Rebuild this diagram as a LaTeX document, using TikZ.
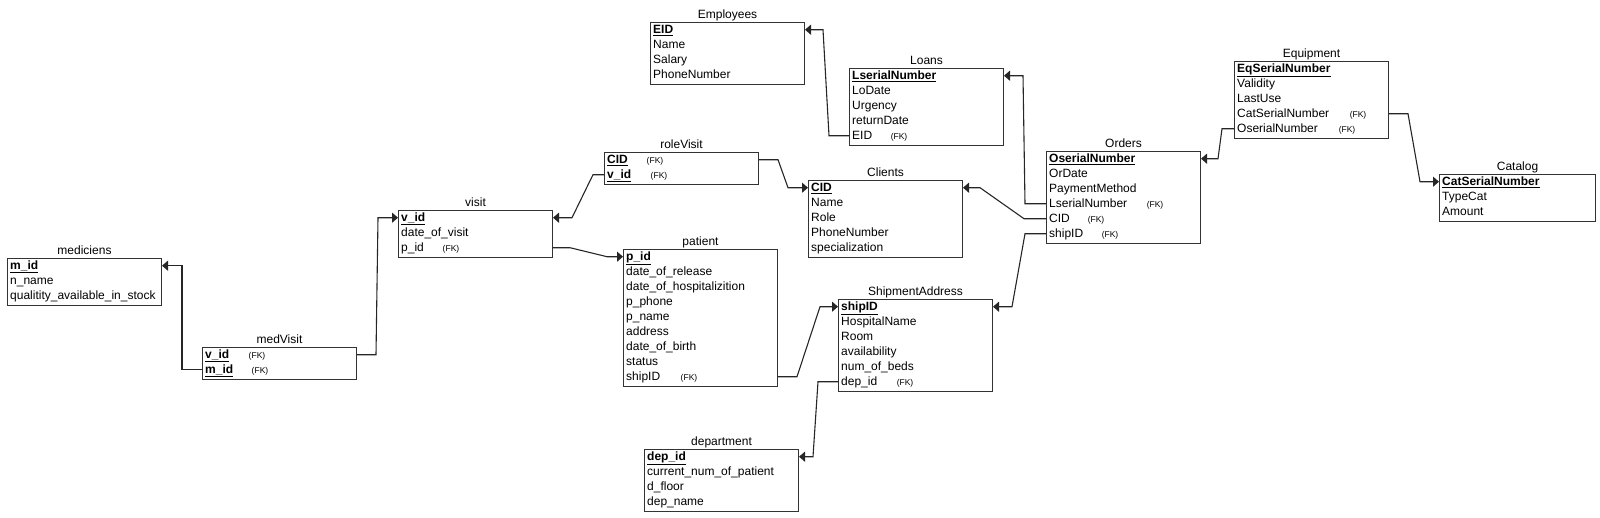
\documentclass[tikz,border=0pt]{standalone}
\usepackage{fontspec}
\setmainfont{Liberation Sans}
\usetikzlibrary{arrows.meta, positioning}

\newcommand{\pkey}[1]{\underline{\textbf{#1}}}

\begin{document}
\begin{tikzpicture}[x=1pt, y=-1pt,
    tbl/.style={draw=black!80, line width=1pt, minimum width=154pt, inner sep=0pt, anchor=north west},
    ttl/.style={font=\fontsize{12}{14}\selectfont, inner sep=0pt, text depth=3pt},
    fld/.style={font=\fontsize{12}{14}\selectfont, inner sep=0pt, minimum height=15pt, text height=10pt, text depth=2pt, anchor=north west},
    fk/.style={font=\fontsize{8.5}{10}\selectfont, inner sep=0pt, anchor=base},
    conn/.style={draw=black!85, line width=1.1pt, -{Triangle[length=6pt,width=10pt]}}
]
\useasboundingbox (0,0) rectangle (1600,517);

% tables
\node[tbl, minimum height=62pt] (emp) at (650,22) {};
\node[ttl, above=0pt of emp] (empT) {Employees};
\foreach \f [count=\i from 0] in {\pkey{EID}, Name, Salary, PhoneNumber}
    \node[fld] (emp\i) at ([xshift=3pt, yshift=-15*\i]emp.north west) {\f};

\node[tbl, minimum height=77pt] (lo) at (849,68) {};
\node[ttl, above=0pt of lo] (loT) {Loans};
\foreach \f [count=\i from 0] in {\pkey{LserialNumber}, LoDate, Urgency, returnDate, EID}
    \node[fld] (lo\i) at ([xshift=3pt, yshift=-15*\i]lo.north west) {\f};

\node[tbl, minimum height=77pt] (eq) at (1234,61) {};
\node[ttl, above=0pt of eq] (eqT) {Equipment};
\foreach \f [count=\i from 0] in {\pkey{EqSerialNumber}, Validity, LastUse, CatSerialNumber, OserialNumber}
    \node[fld] (eq\i) at ([xshift=3pt, yshift=-15*\i]eq.north west) {\f};

\node[tbl, minimum height=47pt, minimum width=156pt] (cat) at (1439,174) {};
\node[ttl, above=0pt of cat] (catT) {Catalog};
\foreach \f [count=\i from 0] in {\pkey{CatSerialNumber}, TypeCat, Amount}
    \node[fld] (cat\i) at ([xshift=3pt, yshift=-15*\i]cat.north west) {\f};

\node[tbl, minimum height=92pt] (ord) at (1046,151) {};
\node[ttl, above=0pt of ord] (ordT) {Orders};
\foreach \f [count=\i from 0] in {\pkey{OserialNumber}, OrDate, PaymentMethod, LserialNumber, CID, shipID}
    \node[fld] (ord\i) at ([xshift=3pt, yshift=-15*\i]ord.north west) {\f};

\node[tbl, minimum height=77pt] (cl) at (808,180) {};
\node[ttl, above=0pt of cl] (clT) {Clients};
\foreach \f [count=\i from 0] in {\pkey{CID}, Name, Role, PhoneNumber, specialization}
    \node[fld] (cl\i) at ([xshift=3pt, yshift=-15*\i]cl.north west) {\f};

\node[tbl, minimum height=32pt] (rv) at (604,152) {};
\node[ttl, above=0pt of rv] (rvT) {roleVisit};
\foreach \f [count=\i from 0] in {\pkey{CID}, \pkey{v\_id}}
    \node[fld] (rv\i) at ([xshift=3pt, yshift=-15*\i]rv.north west) {\f};

\node[tbl, minimum height=47pt] (vi) at (398,210) {};
\node[ttl, above=0pt of vi] (viT) {visit};
\foreach \f [count=\i from 0] in {\pkey{v\_id}, date\_of\_visit, p\_id}
    \node[fld] (vi\i) at ([xshift=3pt, yshift=-15*\i]vi.north west) {\f};

\node[tbl, minimum height=137pt] (pat) at (623,249) {};
\node[ttl, above=0pt of pat] (patT) {patient};
\foreach \f [count=\i from 0] in {\pkey{p\_id}, date\_of\_release, date\_of\_hospitalizition, p\_phone,
        p\_name, address, date\_of\_birth, status, shipID}
    \node[fld] (pat\i) at ([xshift=3pt, yshift=-15*\i]pat.north west) {\f};

\node[tbl, minimum height=92pt] (sh) at (838,299) {};
\node[ttl, above=0pt of sh] (shT) {ShipmentAddress};
\foreach \f [count=\i from 0] in {\pkey{shipID}, HospitalName, Room, availability, num\_of\_beds, dep\_id}
    \node[fld] (sh\i) at ([xshift=3pt, yshift=-15*\i]sh.north west) {\f};

\node[tbl, minimum height=62pt] (dep) at (644,449) {};
\node[ttl, above=0pt of dep] (depT) {department};
\foreach \f [count=\i from 0] in {\pkey{dep\_id}, current\_num\_of\_patient, d\_floor, dep\_name}
    \node[fld] (dep\i) at ([xshift=3pt, yshift=-15*\i]dep.north west) {\f};

\node[tbl, minimum height=47pt] (med) at (7,258) {};
\node[ttl, above=0pt of med] (medT) {mediciens};
\foreach \f [count=\i from 0] in {\pkey{m\_id}, n\_name, qualitity\_available\_in\_stock}
    \node[fld] (med\i) at ([xshift=3pt, yshift=-15*\i]med.north west) {\f};

\node[tbl, minimum height=32pt] (mv) at (202,347) {};
\node[ttl, above=0pt of mv] (mvT) {medVisit};
\foreach \f [count=\i from 0] in {\pkey{v\_id}, \pkey{m\_id}}
    \node[fld] (mv\i) at ([xshift=3pt, yshift=-15*\i]mv.north west) {\f};

% foreign key marks
\foreach \r/\d in {mv0/52, mv1/55, vi2/50, rv0/48, rv1/52, lo4/47, ord3/106, ord4/47, ord5/61,
        eq3/121, eq4/110, pat8/63, sh5/64}
    \node[fk] (fk-\r) at ([xshift=\d pt]\r.base west) {(FK)};

% relations
\draw[conn] (mv.west |- mv1) -- (182,0 |- mv1) -- (182,0 |- med0) -- (med.east |- med0);
\draw[conn] (mv.east |- mv0) -- (376,0 |- mv0) -- (378,0 |- vi0) -- (vi.west |- vi0);
\draw[conn] (rv.west |- rv1) -- (593,0 |- rv1) -- (572,0 |- vi0) -- (vi.east |- vi0);
\draw[conn] (vi.east |- vi2) -- (570,0 |- vi2) -- (607,0 |- pat0) -- (pat.west |- pat0);
\draw[conn] (rv.east |- rv0) -- (778,0 |- rv0) -- (788,0 |- cl0) -- (cl.west |- cl0);
\draw[conn] (lo.west |- lo4) -- (829,0 |- lo4) -- (823,0 |- emp0) -- (emp.east |- emp0);
\draw[conn] (ord.west |- ord3) -- (1025,0 |- ord3) -- (1023,0 |- lo0) -- (lo.east |- lo0);
\draw[conn] (ord.west |- ord4) -- (1024,0 |- ord4) -- (980,0 |- cl0) -- (cl.east |- cl0);
\draw[conn] (ord.west |- ord5) -- (1025,0 |- ord5) -- (1012,0 |- sh0) -- (sh.east |- sh0);
\draw[conn] (eq.west |- eq4) -- (1222,0 |- eq4) -- (1218,0 |- ord0) -- (ord.east |- ord0);
\draw[conn] (eq.east |- eq3) -- (1408,0 |- eq3) -- (1420,0 |- cat0) -- (cat.west |- cat0);
\draw[conn] (pat.east |- pat8) -- (797,0 |- pat8) -- (820,0 |- sh0) -- (sh.west |- sh0);
\draw[conn] (sh.west |- sh5) -- (818,0 |- sh5) -- (813,0 |- dep0) -- (dep.east |- dep0);
\end{tikzpicture}
\end{document}
